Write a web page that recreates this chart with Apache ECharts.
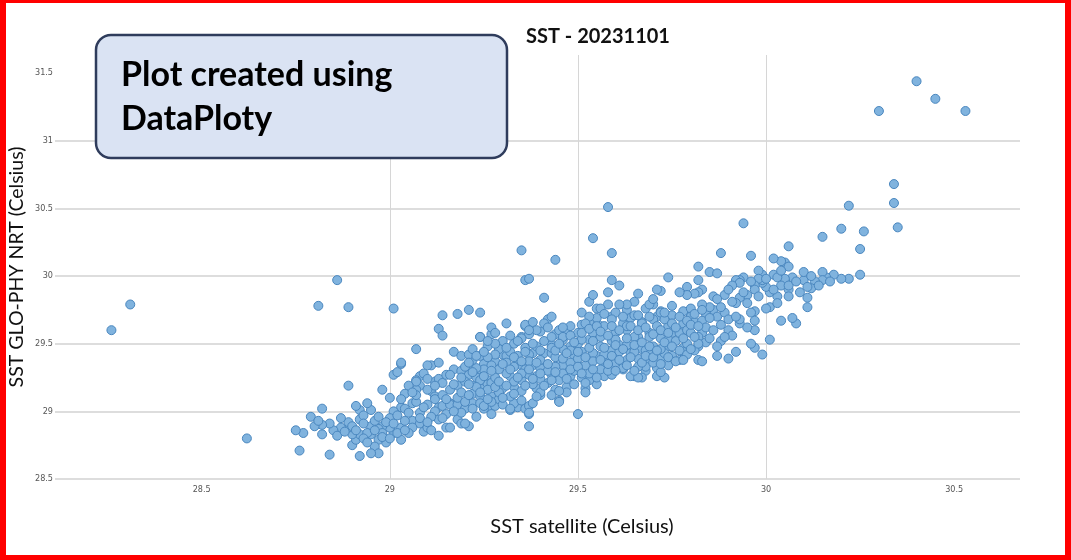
<!DOCTYPE html>
<html>
<head>
<meta charset="utf-8">
<title>SST - 20231101</title>
<script src="https://cdn.jsdelivr.net/npm/echarts@6/dist/echarts.min.js"></script>
<style>
html, body { margin: 0; padding: 0; background: #fff; }
#wrap { position: relative; width: 1071px; height: 560px; }
#main { width: 1071px; height: 560px; }
#frame { position: absolute; left: 0; top: 0; right: 0; bottom: 0; border-style: solid; border-color: #ff0000; border-width: 3px 6px 5px 6px; pointer-events: none; }
</style>
</head>
<body>
<div id="wrap">
    <div id="main"></div>
    <div id="frame"></div>
</div>
<script>
const xTicks = [28.5, 29, 29.5, 30, 30.5];
const yTicks = [28.5, 29, 29.5, 30, 30.5, 31, 31.5];

// [SST satellite, SST GLO-PHY NRT]
const farPoints = [
    [28.26, 29.60], [28.31, 29.79], [28.62, 28.80], [28.81, 29.78], [28.86, 29.97], [28.89, 29.77],
    [29.01, 29.76], [29.35, 30.19], [29.36, 29.97], [29.44, 30.12], [29.54, 30.28], [29.58, 30.51],
    [29.59, 30.17], [29.50, 28.98], [30.30, 31.22], [30.40, 31.44], [30.45, 31.31], [30.53, 31.22],
    [30.34, 30.68], [30.34, 30.54], [30.35, 30.36], [30.22, 30.52]
];

const lowerTail = [
    [29.14, 29.71], [29.18, 29.72], [29.21, 29.75], [29.24, 29.73], [29.13, 29.61], [29.14, 29.56],
    [29.24, 29.55], [29.07, 29.46], [29.17, 29.44], [29.19, 29.41], [29.22, 29.41], [29.03, 29.35],
    [29.01, 29.27], [29.02, 29.29], [29.11, 29.34], [29.13, 29.36], [29.08, 29.26], [29.07, 29.23],
    [29.08, 29.19], [29.07, 29.16], [29.11, 29.15], [29.12, 29.22], [29.13, 29.24], [29.14, 29.21],
    [29.15, 29.27], [29.17, 29.31], [29.19, 29.30], [29.21, 29.27], [29.23, 29.30], [29.25, 29.35],
    [29.26, 29.23], [29.23, 29.20], [29.22, 29.13], [29.24, 29.11], [29.18, 29.19], [29.12, 29.11],
    [29.13, 29.03], [29.16, 29.06], [29.17, 29.04], [29.14, 29.04], [29.26, 29.03], [29.13, 28.94],
    [29.18, 28.94], [29.19, 28.91], [29.21, 28.89], [29.15, 28.88], [29.13, 28.82], [29.08, 28.99],
    [29.06, 29.06], [29.07, 29.07], [29.03, 29.03], [29.01, 29.00], [29.06, 28.93], [29.08, 28.91],
    [29.06, 28.88], [29.09, 28.85], [29.05, 28.84], [29.03, 28.88], [29.03, 28.79], [29.01, 28.84],
    [28.99, 28.77], [29.00, 28.88], [28.98, 28.89], [28.97, 28.87], [28.95, 28.89], [28.95, 28.83],
    [28.97, 28.79], [28.96, 28.74], [28.97, 28.69], [28.95, 28.69], [28.92, 28.67], [28.90, 28.75],
    [28.91, 28.79], [28.92, 28.83], [28.90, 28.83], [28.89, 28.88], [28.89, 28.92], [28.92, 28.94],
    [28.92, 29.01], [28.91, 29.04], [28.95, 29.01], [28.94, 29.06], [28.98, 29.16], [29.00, 29.10],
    [28.89, 29.19], [28.87, 28.88], [28.85, 28.86], [28.84, 28.91], [28.82, 28.83], [28.82, 28.90],
    [28.80, 28.89], [28.79, 28.96], [28.82, 29.02], [28.81, 28.93], [28.77, 28.84], [28.75, 28.86],
    [28.76, 28.71], [28.84, 28.68], [28.94, 28.84], [28.98, 28.84], [29.02, 28.84], [29.10, 28.88],
    [29.11, 28.86], [29.07, 29.12], [29.04, 29.02], [29.07, 29.22], [29.16, 28.88], [29.16, 29.05],
    [29.20, 28.91], [29.12, 29.00], [29.03, 29.36], [29.10, 29.34], [29.16, 29.27], [29.12, 29.09],
    [29.18, 29.05], [29.25, 29.02], [29.32, 29.01], [29.34, 29.03], [29.33, 29.06], [29.27, 29.11],
    [29.26, 29.20], [29.28, 29.04], [29.18, 29.10], [29.20, 29.02], [29.22, 29.06], [29.24, 29.17],
    [29.20, 29.22], [29.16, 29.16], [29.14, 29.12], [29.10, 29.05], [29.15, 28.98], [29.19, 28.99],
    [29.23, 28.96], [29.27, 28.98], [29.29, 29.09], [29.11, 28.96], [29.04, 28.93], [29.00, 28.95],
    [28.96, 28.93], [28.93, 28.97], [28.87, 28.95], [28.86, 28.82], [29.09, 29.28], [29.05, 29.19],
    [29.04, 29.13], [29.10, 29.24], [29.27, 29.57], [29.35, 29.55], [29.36, 29.63], [29.29, 29.47],
    [29.30, 29.42], [29.34, 29.38], [29.35, 29.34], [29.38, 29.43],
    [28.88, 28.85], [28.90, 28.89], [28.91, 28.86], [28.93, 28.80], [28.93, 28.91], [28.94, 28.77],
    [28.96, 28.86], [28.97, 28.96], [28.98, 28.81], [28.99, 28.92], [29.00, 28.80], [29.01, 28.91],
    [29.02, 28.97], [29.03, 29.09], [29.04, 28.86], [29.05, 28.99], [29.06, 29.14], [29.08, 28.95],
    [29.09, 29.03], [29.10, 29.16], [29.10, 28.92], [29.12, 29.19], [29.14, 28.95], [29.15, 29.09],
    [29.17, 29.00], [29.17, 29.20], [29.19, 29.14], [29.19, 29.25], [29.20, 29.07], [29.21, 29.34],
    [29.22, 29.02], [29.24, 29.06]
];

const corePoints = [
    [29.31, 29.65], [29.27, 29.62], [29.28, 29.58], [29.24, 29.55], [29.36, 29.64], [29.38, 29.66],
    [29.42, 29.68], [29.43, 29.70], [29.40, 29.59], [29.37, 29.57], [29.35, 29.54], [29.33, 29.50],
    [29.30, 29.52], [29.29, 29.46], [29.31, 29.41], [29.28, 29.37], [29.27, 29.34], [29.25, 29.31],
    [29.23, 29.32], [29.22, 29.38], [29.21, 29.42], [29.23, 29.25], [29.24, 29.23], [29.27, 29.21],
    [29.26, 29.16], [29.23, 29.18], [29.21, 29.12], [29.25, 29.04], [29.27, 29.07], [29.30, 29.05],
    [29.32, 29.02], [29.36, 29.02], [29.37, 29.04], [29.37, 28.98], [29.37, 28.89], [29.40, 29.12],
    [29.45, 29.08], [29.33, 29.18], [29.30, 29.17], [29.35, 29.23], [29.32, 29.26], [29.36, 29.31],
    [29.33, 29.33], [29.38, 29.34], [29.39, 29.26], [29.43, 29.27], [29.42, 29.21], [29.45, 29.23],
    [29.47, 29.18], [29.48, 29.26], [29.51, 29.25], [29.52, 29.17], [29.55, 29.20], [29.53, 29.23],
    [29.57, 29.26], [29.59, 29.27], [29.41, 29.43], [29.43, 29.43], [29.45, 29.36], [29.47, 29.34],
    [29.49, 29.41], [29.43, 29.49], [29.46, 29.53], [29.48, 29.48], [29.50, 29.50], [29.51, 29.44],
    [29.53, 29.53], [29.47, 29.58], [29.44, 29.57], [29.50, 29.58], [29.51, 29.64], [29.53, 29.66],
    [29.51, 29.73], [29.55, 29.76], [29.58, 29.79], [29.63, 29.75], [29.70, 29.79], [29.80, 29.73],
    [29.78, 29.63], [29.75, 29.58], [29.78, 29.47], [29.74, 29.48], [29.72, 29.54], [29.74, 29.68],
    [29.71, 29.70], [29.67, 29.66], [29.64, 29.69], [29.62, 29.65], [29.59, 29.70], [29.56, 29.63],
    [29.60, 29.58], [29.63, 29.60], [29.66, 29.55], [29.69, 29.58], [29.70, 29.48], [29.67, 29.46],
    [29.64, 29.48], [29.61, 29.49], [29.59, 29.52], [29.56, 29.48], [29.55, 29.41], [29.58, 29.38],
    [29.60, 29.41], [29.63, 29.38], [29.66, 29.39], [29.69, 29.38], [29.72, 29.39], [29.74, 29.34],
    [29.71, 29.32], [29.68, 29.30], [29.65, 29.26], [29.62, 29.31], [29.59, 29.33], [29.67, 29.25],
    [29.71, 29.26], [29.73, 29.25], [29.82, 29.48], [29.86, 29.75], [29.75, 29.78], [29.72, 29.74],
    [29.60, 29.73], [29.55, 29.69], [29.54, 29.58], [29.22, 29.46], [29.24, 29.41], [29.26, 29.48],
    [29.28, 29.42], [29.32, 29.44], [29.34, 29.41], [29.36, 29.47], [29.37, 29.42], [29.39, 29.48],
    [29.40, 29.32], [29.37, 29.27], [29.35, 29.15], [29.28, 29.25], [29.31, 29.28], [29.29, 29.14],
    [29.32, 29.11], [29.39, 29.17], [29.44, 29.16], [29.47, 29.14], [29.43, 29.12], [29.52, 29.14],
    [29.53, 29.70], [29.56, 29.76], [29.65, 29.71], [29.68, 29.76], [29.69, 29.79], [29.72, 29.73],
    [29.75, 29.71], [29.78, 29.74], [29.80, 29.76], [29.80, 29.70], [29.82, 29.64], [29.78, 29.65],
    [29.74, 29.63], [29.70, 29.68], [29.67, 29.65], [29.63, 29.63], [29.59, 29.68], [29.57, 29.63],
    [29.52, 29.65], [29.48, 29.63], [29.45, 29.60], [29.41, 29.65], [29.39, 29.60], [29.46, 29.55],
    [29.51, 29.53], [29.56, 29.55], [29.60, 29.53], [29.65, 29.55], [29.69, 29.55], [29.74, 29.53],
    [29.79, 29.50], [29.43, 29.47], [29.48, 29.45], [29.54, 29.43], [29.59, 29.45], [29.64, 29.43],
    [29.68, 29.45], [29.73, 29.43], [29.78, 29.44], [29.40, 29.38], [29.46, 29.34], [29.51, 29.33],
    [29.57, 29.34], [29.62, 29.32], [29.68, 29.33], [29.72, 29.29], [29.26, 29.40], [29.29, 29.31],
    [29.31, 29.36], [29.33, 29.22], [29.35, 29.28], [29.37, 29.37], [29.38, 29.20], [29.40, 29.24],
    [29.42, 29.30], [29.44, 29.33], [29.44, 29.40], [29.46, 29.28], [29.46, 29.46], [29.48, 29.36],
    [29.49, 29.30], [29.50, 29.39], [29.52, 29.34], [29.53, 29.28], [29.54, 29.37], [29.56, 29.31],
    [29.57, 29.42], [29.58, 29.30], [29.60, 29.36], [29.61, 29.44], [29.63, 29.49], [29.65, 29.44],
    [29.66, 29.33], [29.69, 29.42], [29.70, 29.36], [29.72, 29.46], [29.75, 29.41], [29.76, 29.52],
    [29.77, 29.58], [29.79, 29.60], [29.81, 29.66], [29.83, 29.58], [29.84, 29.72], [29.45, 29.07],
    [29.40, 29.14], [29.38, 29.06], [29.37, 28.99], [29.64, 29.26], [29.66, 29.25], [29.77, 29.38],
    [29.82, 29.38]
];

const coreFill = [
    [29.20, 29.33], [29.21, 29.20], [29.22, 29.29], [29.23, 29.41], [29.24, 29.14], [29.25, 29.26],
    [29.25, 29.44], [29.26, 29.09], [29.27, 29.30], [29.28, 29.18], [29.28, 29.50], [29.29, 29.22],
    [29.30, 29.35], [29.30, 29.10], [29.21, 29.36], [29.26, 29.52], [29.31, 29.19], [29.31, 29.47],
    [29.32, 29.31], [29.32, 29.56], [29.33, 29.13], [29.33, 29.40], [29.34, 29.25], [29.34, 29.52],
    [29.35, 29.08], [29.35, 29.37], [29.36, 29.19], [29.36, 29.44], [29.37, 29.31], [29.37, 29.60],
    [29.38, 29.24], [29.38, 29.50], [29.39, 29.11], [29.39, 29.36], [29.40, 29.28], [29.40, 29.45],
    [29.41, 29.19], [29.41, 29.52], [29.42, 29.35], [29.42, 29.62], [29.43, 29.23], [29.43, 29.55],
    [29.44, 29.29], [29.44, 29.45], [29.45, 29.15], [29.45, 29.50], [29.46, 29.39], [29.46, 29.62],
    [29.47, 29.24], [29.47, 29.43], [29.48, 29.31], [29.48, 29.56], [29.49, 29.20], [29.49, 29.51],
    [29.50, 29.33], [29.50, 29.44], [29.51, 29.28], [29.51, 29.58], [29.52, 29.40], [29.52, 29.21],
    [29.53, 29.47], [29.53, 29.61], [29.54, 29.31], [29.54, 29.52], [29.55, 29.25], [29.55, 29.63],
    [29.56, 29.38], [29.56, 29.59], [29.57, 29.47], [29.57, 29.72], [29.58, 29.35], [29.58, 29.56],
    [29.59, 29.41], [29.59, 29.63], [29.60, 29.30], [29.60, 29.49], [29.61, 29.38], [29.61, 29.60],
    [29.62, 29.46], [29.62, 29.70], [29.63, 29.34], [29.63, 29.54], [29.64, 29.40], [29.64, 29.63],
    [29.65, 29.49], [29.65, 29.30], [29.66, 29.60], [29.66, 29.71], [29.67, 29.36], [29.67, 29.51],
    [29.68, 29.41], [29.68, 29.62], [29.69, 29.48], [29.69, 29.70], [29.70, 29.40], [29.70, 29.57],
    [29.71, 29.45], [29.71, 29.63], [29.72, 29.35], [29.72, 29.60], [29.73, 29.51], [29.73, 29.68],
    [29.74, 29.40], [29.74, 29.58], [29.75, 29.48], [29.75, 29.65], [29.76, 29.37], [29.76, 29.62],
    [29.77, 29.45], [29.77, 29.70], [29.78, 29.54], [29.79, 29.67], [29.79, 29.42], [29.80, 29.58],
    [29.80, 29.64], [29.81, 29.72], [29.81, 29.45], [29.82, 29.55], [29.83, 29.67], [29.84, 29.51],
    [29.84, 29.62], [29.85, 29.77], [29.86, 29.60], [29.87, 29.70], [29.88, 29.52], [29.88, 29.64],
    [29.89, 29.73], [29.90, 29.60]
];

const upperTail = [
    [29.94, 30.39], [29.88, 30.17], [29.96, 30.15], [30.06, 30.22], [30.15, 30.29], [30.20, 30.35],
    [30.26, 30.33], [30.25, 30.20], [30.25, 30.01], [30.22, 29.98], [30.20, 29.98], [30.18, 30.01],
    [30.16, 29.99], [30.15, 30.03], [30.15, 29.97], [30.13, 29.96], [30.12, 29.91], [30.10, 29.97],
    [30.10, 30.03], [30.11, 29.84], [30.11, 29.77], [30.11, 29.92], [30.08, 29.65], [30.07, 29.69],
    [30.04, 29.67], [30.07, 29.99], [30.06, 29.90], [30.05, 29.96], [30.05, 29.98], [30.05, 30.10],
    [30.06, 30.07], [30.04, 30.11], [30.02, 30.13], [30.02, 30.01], [30.03, 29.99], [30.04, 29.93],
    [30.06, 29.93], [30.03, 29.85], [30.01, 29.88], [30.01, 29.77], [30.00, 29.76], [30.00, 29.92],
    [29.99, 29.95], [29.99, 30.01], [29.99, 29.97], [29.98, 30.04], [29.98, 29.98], [29.97, 29.93],
    [29.97, 29.90], [29.95, 29.86], [29.94, 29.99], [29.93, 29.97], [29.92, 29.97], [29.93, 29.95],
    [29.93, 29.84], [29.92, 29.80], [29.91, 29.81], [29.88, 29.77], [29.86, 29.85], [29.97, 29.74],
    [29.96, 29.73], [29.97, 29.67], [29.97, 29.60], [30.01, 29.53], [29.99, 29.42], [29.97, 29.47],
    [29.96, 29.50], [29.93, 29.65], [29.93, 29.68], [29.90, 29.68], [29.91, 29.56], [29.89, 29.55],
    [29.92, 29.44], [29.90, 29.39], [29.87, 29.48], [29.87, 29.41], [29.83, 29.37], [29.85, 29.54],
    [29.82, 29.50], [29.85, 29.69], [29.83, 29.79], [29.83, 29.75], [29.82, 29.63], [29.74, 29.99],
    [29.82, 30.07], [29.85, 30.03], [29.87, 30.02], [29.82, 29.97], [29.83, 29.90], [29.82, 29.88],
    [29.81, 29.87], [29.79, 29.92], [29.79, 29.86], [29.77, 29.88], [29.72, 29.89], [29.71, 29.90],
    [29.70, 29.83], [29.66, 29.87], [29.65, 29.81], [29.63, 29.79], [29.61, 29.79], [29.58, 29.88],
    [29.59, 29.97], [29.61, 29.93], [29.53, 29.81], [29.54, 29.86], [29.41, 29.84], [29.37, 29.98],
    [29.81, 29.55], [29.80, 29.46], [29.78, 29.38], [29.73, 29.73],
    [29.89, 29.86], [29.91, 29.93], [29.94, 29.88], [29.95, 29.80], [29.96, 29.96], [29.98, 29.85],
    [30.00, 29.98], [30.02, 29.90], [30.03, 29.80], [30.04, 30.04], [30.06, 29.85], [30.08, 29.96],
    [30.09, 29.88], [30.12, 30.00], [30.14, 29.93], [30.17, 29.96], [29.90, 29.90], [29.87, 29.83],
    [29.92, 29.70], [29.95, 29.62]
];

const allPoints = farPoints.concat(lowerTail, corePoints, coreFill, upperTail);

const tickFont = "'Liberation Sans Narrow', 'DejaVu Sans Condensed', Arial, sans-serif";

var myChart = echarts.init(document.getElementById('main'));
var option = {
    animation: false,
    backgroundColor: '#ffffff',
    title: {
        text: 'SST - 20231101',
        left: 598,
        top: 27,
        padding: 0,
        textAlign: 'center',
        textStyle: { fontFamily: 'Lato', fontWeight: 'bold', fontSize: 20, color: '#111' }
    },
    grid: { left: 55, right: 51, top: 55, bottom: 81 },
    xAxis: {
        type: 'value',
        min: 28.11,
        max: 30.675,
        axisLine: { show: false },
        axisTick: { show: false, customValues: xTicks },
        axisLabel: { customValues: xTicks, margin: 6, fontFamily: tickFont, fontSize: 9, color: '#555' },
        splitLine: { show: true, showMinLine: false, showMaxLine: false, lineStyle: { color: '#d6d6d6', width: 1 } }
    },
    yAxis: {
        type: 'value',
        min: 28.5,
        max: 31.634,
        axisLine: { show: false },
        axisTick: { show: false, customValues: yTicks },
        axisLabel: { customValues: yTicks, margin: 2, fontFamily: tickFont, fontSize: 9, color: '#555' },
        splitLine: { show: true, showMaxLine: false, lineStyle: { color: '#d2d2d2', width: 1.5 } }
    },
    graphic: [
        {
            type: 'rect', z: 100,
            shape: { x: 96, y: 35, width: 411, height: 123, r: 15 },
            style: { fill: '#dae3f3', stroke: '#2f3c5c', lineWidth: 2.5 }
        },
        {
            type: 'text', z: 101, x: 121, y: 75,
            style: { text: 'Plot created using', font: 'bold 34px Lato', fill: '#000', textVerticalAlign: 'middle' }
        },
        {
            type: 'text', z: 101, x: 121, y: 119,
            style: { text: 'DataPloty', font: 'bold 34px Lato', fill: '#000', textVerticalAlign: 'middle' }
        },
        {
            type: 'text', x: 17, y: 267, rotation: Math.PI / 2,
            style: { text: 'SST GLO-PHY NRT (Celsius)', font: '19.5px Lato', fill: '#111', textAlign: 'center', textVerticalAlign: 'middle' }
        },
        {
            type: 'text', x: 582, y: 527,
            style: { text: 'SST satellite (Celsius)', font: '20px Lato', fill: '#111', textAlign: 'center', textVerticalAlign: 'middle' }
        }
    ],
    series: [
        {
            name: 'SST',
            type: 'scatter',
            data: allPoints,
            symbolSize: 9,
            silent: true,
            itemStyle: { color: '#80b3de', borderColor: '#4a87bf', borderWidth: 1, opacity: 1 }
        }
    ]
};
myChart.setOption(option);
</script>
</body>
</html>
